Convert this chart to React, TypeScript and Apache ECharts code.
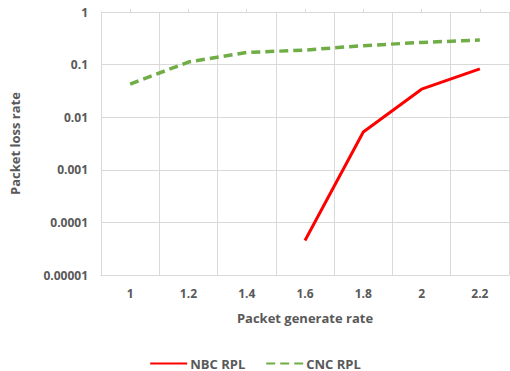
import React, { useEffect, useRef } from "react";
import * as echarts from "echarts";

const categories = ["1", "1.2", "1.4", "1.6", "1.8", "2", "2.2"];
const nbcRpl: (number | null)[] = [null, null, null, 0.0000454, 0.00525, 0.0341, 0.083];
const cncRpl: number[] = [0.0425, 0.112, 0.17, 0.189, 0.229, 0.264, 0.293];
const yTickLabels = ["0.00001", "0.0001", "0.001", "0.01", "0.1", "1"];

const labelColor = "#595959";
const gridColor = "#d9d9d9";
const font = "'Open Sans', 'Liberation Sans', sans-serif";

export default function App() {
  const ref = useRef<HTMLDivElement>(null);
  useEffect(() => {
    if (!ref.current) return;
    const chart = echarts.init(ref.current, undefined, { renderer: "svg" });
    chart.setOption({
      animation: false,
      textStyle: { fontFamily: font },
      grid: { left: 100, right: 1, top: 12, bottom: 96, containLabel: false },
      legend: {
        top: 352,
        left: "center",
        itemWidth: 37,
        itemHeight: 14,
        itemGap: 20,
        itemStyle: { opacity: 0 },
        textStyle: { color: labelColor, fontWeight: "bold", fontSize: 13, fontFamily: font, padding: [0, 0, 0, -2] },
        data: ["NBC RPL", "CNC RPL"],
      },
      xAxis: [
        {
          type: "category",
          data: categories,
          boundaryGap: true,
          name: "Packet generate rate",
          nameLocation: "middle",
          nameGap: 36,
          nameTextStyle: { color: labelColor, fontWeight: "bold", fontSize: 13, fontFamily: font },
          axisLine: { show: true, lineStyle: { color: gridColor, width: 1 } },
          axisTick: { show: false },
          axisLabel: { color: labelColor, fontWeight: "bold", fontSize: 12, margin: 12, fontFamily: font },
          splitLine: { show: true, lineStyle: { color: gridColor, width: 1 } },
        },
        {
          type: "category",
          data: categories,
          boundaryGap: true,
          position: "top",
          axisLine: { show: false },
          axisTick: { show: true, inside: false, length: 3, alignWithLabel: true, lineStyle: { color: gridColor } },
          axisLabel: { show: false },
          splitLine: { show: false },
        },
      ],
      yAxis: {
        type: "log",
        logBase: 10,
        min: 0.00001,
        max: 1,
        name: "Packet loss rate",
        nameLocation: "middle",
        nameGap: 80,
        nameTextStyle: { color: labelColor, fontWeight: "bold", fontSize: 13, fontFamily: font },
        axisLine: { show: true, lineStyle: { color: gridColor } },
        axisTick: { show: false },
        axisLabel: {
          color: labelColor,
          fontWeight: "bold",
          fontSize: 12,
          margin: 13,
          fontFamily: font,
          formatter: (v: number) => {
            const i = Math.round(Math.log10(v)) + 5;
            return yTickLabels[i] ?? String(v);
          },
        },
        splitLine: { show: true, lineStyle: { color: gridColor, width: 1 } },
      },
      series: [
        {
          name: "NBC RPL",
          type: "line",
          data: nbcRpl,
          showSymbol: false,
          symbol: "none",
          lineStyle: { color: "#ff0000", width: 3 },
          itemStyle: { color: "#ff0000" },
          connectNulls: false,
        },
        {
          name: "CNC RPL",
          type: "line",
          data: cncRpl,
          showSymbol: false,
          symbol: "none",
          lineStyle: { color: "#70ad47", width: 3.5, type: [9, 5] },
          itemStyle: { color: "#70ad47" },
        },
      ],
    });
    return () => chart.dispose();
  }, []);
  return <div ref={ref} style={{ width: 510, height: 371, position: "absolute", left: 0, top: 0 }} />;
}
